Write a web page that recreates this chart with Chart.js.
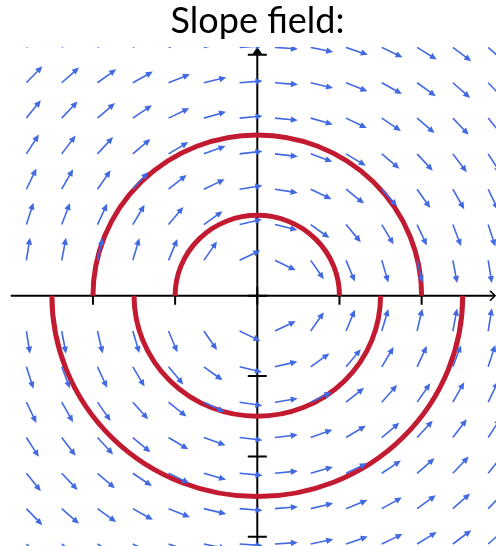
<!DOCTYPE html>
<html>
<head>
<meta charset="utf-8">
<script src="https://cdn.jsdelivr.net/npm/chart.js@4.4.1/dist/chart.umd.min.js"></script>
<style>
  html, body { margin: 0; padding: 0; background: #fff; }
  #wrap { width: 496px; height: 546px; }
</style>
</head>
<body>
<div id="wrap"><canvas id="chart"></canvas></div>
<script>
const titleText = "Slope field:";

// arrow tails of the slope field (data units)
const fieldX = [-5.62, -4.76, -3.89, -3.03, -2.16, -1.30, -0.43, 0.43, 1.30, 2.16, 3.03, 3.89, 4.76, 5.62];
const fieldY = [-6.18, -5.30, -4.42, -3.53, -2.65, -1.77, -0.88, 0.88, 1.77, 2.65, 3.53, 4.42, 5.30, 6.18];

// solution curves x^2 + y^2 = r^2
const upperRadii = [2, 4];
const lowerRadii = [3, 5];

const xTicks = [-4, -2, 0, 2, 4];
const yTicks = [-6, -4, -2, 0, 2, 4, 6];
const xAxisStart = -6;

// dy/dx = -x / y
const slope = (x, y) => -x / y;

const fieldPoints = [];
fieldX.forEach(x => fieldY.forEach(y => fieldPoints.push({ x: x, y: y })));

const slopePlugin = {
  id: "slopeField",
  afterDatasetsDraw(chart) {
    const ctx = chart.ctx;
    const area = chart.chartArea;
    const xs = chart.scales.x;
    const ys = chart.scales.y;
    const x0 = xs.getPixelForValue(0);
    const y0 = ys.getPixelForValue(0);

    ctx.save();
    ctx.beginPath();
    // the plot runs out to the left edge of the canvas
    ctx.rect(0, area.top, area.right, area.bottom - area.top);
    ctx.clip();

    // axes
    ctx.strokeStyle = "#000";
    ctx.fillStyle = "#000";
    ctx.lineWidth = 2;
    ctx.beginPath();
    ctx.moveTo(xs.getPixelForValue(xAxisStart), y0);
    ctx.lineTo(area.right - 1, y0);
    ctx.moveTo(x0, area.bottom);
    ctx.lineTo(x0, area.top + 6);
    ctx.stroke();
    // x arrow (open chevron)
    ctx.lineWidth = 1.6;
    ctx.beginPath();
    ctx.moveTo(area.right - 6, y0 - 5);
    ctx.lineTo(area.right - 1, y0);
    ctx.lineTo(area.right - 6, y0 + 5);
    ctx.stroke();
    // y arrow (filled)
    ctx.beginPath();
    ctx.moveTo(x0, area.top);
    ctx.lineTo(x0 - 5.5, area.top + 8);
    ctx.lineTo(x0 + 5.5, area.top + 8);
    ctx.closePath();
    ctx.fill();
    // ticks
    ctx.lineWidth = 2;
    ctx.beginPath();
    xTicks.forEach(t => {
      const p = xs.getPixelForValue(t);
      ctx.moveTo(p, y0 - 9);
      ctx.lineTo(p, y0 + 9);
    });
    yTicks.forEach(t => {
      const p = ys.getPixelForValue(t);
      ctx.moveTo(x0 - 9.5, p);
      ctx.lineTo(x0 + 9.5, p);
    });
    ctx.stroke();

    // solution curves
    ctx.strokeStyle = "#c21a30";
    ctx.lineWidth = 5;
    upperRadii.forEach(r => {
      const rx = xs.getPixelForValue(r) - x0;
      const ry = y0 - ys.getPixelForValue(r);
      ctx.beginPath();
      ctx.ellipse(x0, y0, rx, ry, 0, Math.PI, 2 * Math.PI);
      ctx.stroke();
    });
    lowerRadii.forEach(r => {
      const rx = xs.getPixelForValue(r) - x0;
      const ry = y0 - ys.getPixelForValue(r);
      ctx.beginPath();
      ctx.ellipse(x0, y0, rx, ry, 0, 0, Math.PI);
      ctx.stroke();
    });

    // arrows
    const len = 23, head = 7, half = 3.2;
    ctx.strokeStyle = "#4169e1";
    ctx.fillStyle = "#4169e1";
    ctx.lineWidth = 1.6;
    chart.data.datasets[0].data.forEach(pt => {
      const px = xs.getPixelForValue(pt.x);
      const py = ys.getPixelForValue(pt.y);
      const s = slope(pt.x, pt.y);
      let dx = xs.getPixelForValue(pt.x + 1) - px;
      let dy = ys.getPixelForValue(pt.y + s) - py;
      const n = Math.hypot(dx, dy);
      dx /= n; dy /= n;
      const tx = px + dx * len, ty = py + dy * len;
      const bx = tx - dx * head, by = ty - dy * head;
      ctx.beginPath();
      ctx.moveTo(px, py);
      ctx.lineTo(bx + dx, by + dy);
      ctx.stroke();
      ctx.beginPath();
      ctx.moveTo(tx, ty);
      ctx.lineTo(bx - dy * half, by + dx * half);
      ctx.lineTo(bx + dy * half, by - dx * half);
      ctx.closePath();
      ctx.fill();
    });
    ctx.restore();
  }
};

new Chart(document.getElementById("chart"), {
  type: "scatter",
  data: {
    datasets: [{
      label: "slope field",
      data: fieldPoints,
      pointRadius: 0,
      pointHoverRadius: 0,
      showLine: false
    }]
  },
  options: {
    responsive: true,
    maintainAspectRatio: false,
    animation: false,
    layout: { padding: { left: 19 } },
    scales: {
      x: { type: "linear", min: -5.80, max: 5.81, display: false },
      y: { type: "linear", min: -6.23, max: 6.19, display: false }
    },
    plugins: {
      legend: { display: false },
      tooltip: { enabled: false },
      title: {
        display: true,
        fullSize: false,
        text: titleText,
        color: "#000",
        font: { family: "Lato", size: 36, weight: "normal", lineHeight: 1.2 },
        padding: { top: 0, bottom: 3.8 }
      }
    }
  },
  plugins: [slopePlugin]
});
</script>
</body>
</html>
